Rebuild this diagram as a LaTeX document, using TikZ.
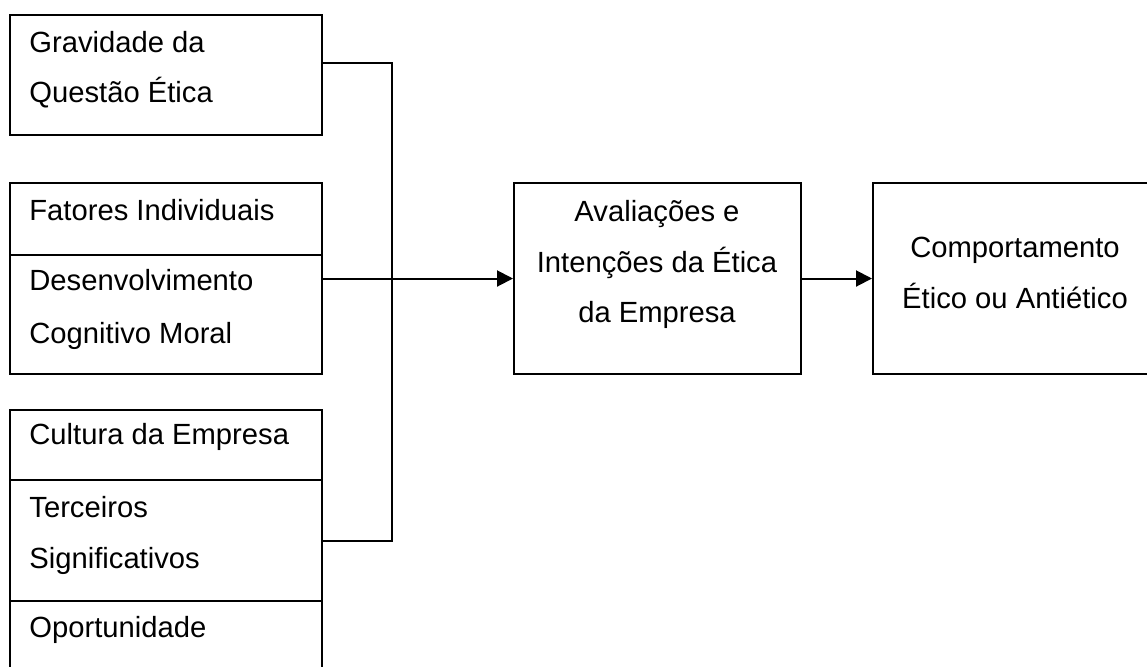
\documentclass[tikz,border=0pt]{standalone}
\usepackage{fontspec}
\setmainfont{Liberation Sans}
\usetikzlibrary{arrows.meta}

\begin{document}
\begin{tikzpicture}[x=0.5pt,y=-0.5pt,
  box/.style={draw,line width=1pt,inner sep=0pt,anchor=north west,minimum width=156.25pt},
  txt/.style={inner sep=0pt,anchor=base west,font=\fontsize{14.6}{17}\selectfont},
  ctxt/.style={inner sep=0pt,anchor=base,font=\fontsize{14.6}{17}\selectfont},
  linha/.style={line width=1pt},
  seta/.style={line width=1pt,-{Triangle[length=8pt,width=8pt]}}]
\useasboundingbox (0,0) rectangle (1147,666);
% caixas da esquerda
\node[box,minimum height=60pt] (grav) at (8.5,14) {};
\node[box,minimum height=36pt] (fat) at (8.5,182) {};
\node[box,minimum height=59.5pt] (des) at (8.5,254) {};
\node[box,minimum height=35pt] (cul) at (8.5,409) {};
\node[box,minimum height=60.5pt] (terc) at (8.5,479) {};
\node[box,minimum height=35.5pt] (opo) at (8.5,600) {};
% caixas da direita
\node[box,minimum width=143.5pt,minimum height=95.5pt] (aval) at (513,182) {};
\node[box,minimum width=143pt,minimum height=95.5pt] (comp) at (872,182) {};
% textos
\node[txt] (t1a) at (29,52) {Gravidade da};
\node[txt] (t1b) at (29,102) {Questão Ética};
\node[txt] (t2) at (29,220) {Fatores Individuais};
\node[txt] (t3a) at (29,290) {Desenvolvimento};
\node[txt] (t3b) at (29,343) {Cognitivo Moral};
\node[txt] (t4) at (29,444) {Cultura da Empresa};
\node[txt] (t5a) at (29,517) {Terceiros};
\node[txt] (t5b) at (29,568) {Significativos};
\node[txt] (t6) at (29,637) {Oportunidade};
\node[ctxt] (a1) at (657,221) {Avaliações e};
\node[ctxt] (a2) at (657,272) {Intenções da Ética};
\node[ctxt] (a3) at (657,322) {da Empresa};
\node[ctxt] (c1) at (1015,257) {Comportamento};
\node[ctxt] (c2) at (1015,308) {Ético ou Antiético};
% ligacoes
\coordinate (juncao) at (392,277.5);
\draw[linha] ([yshift=6pt]grav.east) -| (juncao) |- (terc.east);
\draw[seta] (aval.west -| des.east) -- (aval.west);
\draw[seta] (aval.east) -- (comp.west);
\end{tikzpicture}
\end{document}
